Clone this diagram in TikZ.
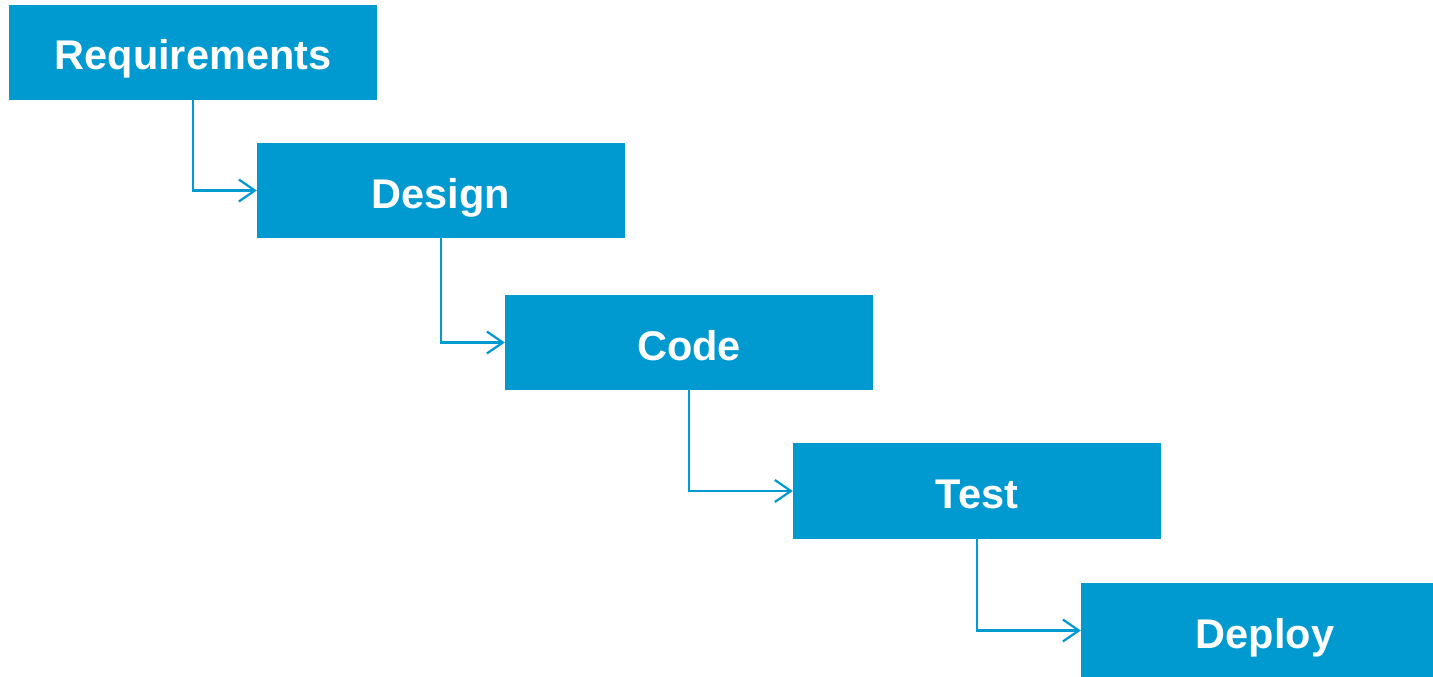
\documentclass[tikz,border=0pt]{standalone}
\usepackage{fontspec}
\setmainfont{Liberation Sans}
\usetikzlibrary{arrows.meta}
\definecolor{wfblue}{RGB}{0,153,208}
\begin{document}
\begin{tikzpicture}[x=1pt,y=-1pt,
  stage/.style={fill=wfblue, draw=none, minimum width=368pt, minimum height=95.5pt,
    inner sep=0pt, text height=35pt, text depth=0pt, text=white, font=\fontsize{41.5}{48}\selectfont\bfseries},
  flow/.style={draw=wfblue, line width=2.2pt, -{Straight Barb[length=16pt,width=22pt,line width=2.2pt]}}]
\useasboundingbox (0,0) rectangle (1433,677);
\node[stage] (req) at (193,52.5) {Requirements};
\node[stage] (des) at (441,190.5) {Design};
\node[stage] (cod) at (689,342.5) {Code};
\node[stage] (tst) at (977,491) {Test};
\node[stage] (dep) at (1265,630.5) {Deploy};
\draw[flow] (req.south) |- (des.west);
\draw[flow] (des.south) |- (cod.west);
\draw[flow] (cod.south) |- (tst.west);
\draw[flow] (tst.south) |- (dep.west);
\end{tikzpicture}
\end{document}
